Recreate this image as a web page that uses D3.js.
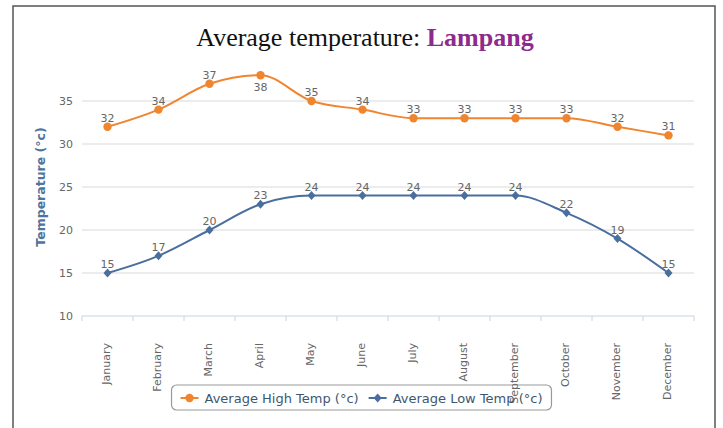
<!DOCTYPE html>
<html>
<head>
<meta charset="utf-8">
<script src="https://cdn.jsdelivr.net/npm/d3@7"></script>
<style>
  body { margin: 0; background: #fff; }
  svg { display: block; }
</style>
</head>
<body>
<svg id="chart"></svg>
<script>
const months = ["January", "February", "March", "April", "May", "June", "July",
  "August", "September", "October", "November", "December"];
const highTemps = [32, 34, 37, 38, 35, 34, 33, 33, 33, 33, 32, 31];
const lowTemps = [15, 17, 20, 23, 24, 24, 24, 24, 24, 22, 19, 15];
const yTicks = [10, 15, 20, 25, 30, 35];
const seriesNames = ["Average High Temp (°c)", "Average Low Temp (°c)"];

const width = 723, height = 428;
const font = "'DejaVu Sans', Verdana, sans-serif";
const orange = "#f0852f", blue = "#4a6e9e";

const svg = d3.select("#chart").attr("width", width).attr("height", height);

// outer frame
svg.append("rect")
  .attr("x", 13).attr("y", 6)
  .attr("width", 702).attr("height", 440)
  .attr("fill", "#fff")
  .attr("stroke", "#555").attr("stroke-width", 1.5);

// title
const title = svg.append("text")
  .attr("x", 365).attr("y", 46)
  .attr("text-anchor", "middle")
  .style("font-family", "'Liberation Serif', 'Times New Roman', serif")
  .style("font-size", "26px");
title.append("tspan").attr("fill", "#111").text("Average temperature: ");
title.append("tspan").attr("fill", "#8e2a8e").attr("font-weight", "bold").text("Lampang");

const x = d3.scaleBand().domain(months).range([82, 694]).paddingInner(0);
const y = d3.scaleLinear().domain([10, 39]).range([316, 66.6]);
const cx = d => x(d) + x.bandwidth() / 2;

// grid lines
svg.append("g")
  .selectAll("line")
  .data(yTicks.filter(t => t > 10))
  .enter()
  .append("line")
  .attr("x1", 82).attr("x2", 694)
  .attr("y1", d => y(d)).attr("y2", d => y(d))
  .attr("stroke", "#d9d9d9").attr("stroke-width", 1.2);

// y axis labels
const yAxis = d3.axisLeft(y).tickValues(yTicks).tickSize(0).tickPadding(9);
const gy = svg.append("g").attr("transform", "translate(82,0)").call(yAxis);
gy.select(".domain").remove();
gy.selectAll("text")
  .attr("fill", "#666")
  .style("font-family", font)
  .style("font-size", "11px");

// y axis title
svg.append("text")
  .attr("transform", "translate(45,187) rotate(-90)")
  .attr("text-anchor", "middle")
  .attr("fill", "#4d759e")
  .attr("font-weight", "bold")
  .style("font-family", font)
  .style("font-size", "12.5px")
  .text("Temperature (°c)");

// x axis
svg.append("line")
  .attr("x1", 82).attr("x2", 694)
  .attr("y1", y(10)).attr("y2", y(10))
  .attr("stroke", "#c8d3de").attr("stroke-width", 1.2);
svg.append("g")
  .selectAll("line")
  .data(d3.range(months.length + 1))
  .enter()
  .append("line")
  .attr("x1", i => 82 + i * x.step()).attr("x2", i => 82 + i * x.step())
  .attr("y1", y(10)).attr("y2", y(10) + 5)
  .attr("stroke", "#c8d3de");

// series
const series = [
  { name: seriesNames[0], values: highTemps, color: orange, marker: "circle" },
  { name: seriesNames[1], values: lowTemps, color: blue, marker: "diamond" }
];

const line = d3.line()
  .x((d, i) => cx(months[i]))
  .y(d => y(d))
  .curve(d3.curveMonotoneX);

function drawMarker(g, type, color, px, py) {
  if (type === "circle") {
    g.append("circle").attr("cx", px).attr("cy", py).attr("r", 4.2).attr("fill", color);
  } else {
    g.append("path")
      .attr("d", "M" + px + "," + (py - 4.5) + "L" + (px + 4) + "," + py +
        "L" + px + "," + (py + 4.5) + "L" + (px - 4) + "," + py + "Z")
      .attr("fill", color);
  }
}

series.forEach(s => {
  const g = svg.append("g");
  g.append("path")
    .attr("d", line(s.values))
    .attr("fill", "none")
    .attr("stroke", s.color)
    .attr("stroke-width", 2);
  s.values.forEach((v, i) => drawMarker(g, s.marker, s.color, cx(months[i]), y(v)));
  g.selectAll("text.label")
    .data(s.values)
    .enter()
    .append("text")
    .attr("class", "label")
    .attr("x", (d, i) => cx(months[i]))
    // label goes below the point if it would not fit under the plot top
    .attr("y", d => (y(d) - 17 < y.range()[1] ? y(d) + 16 : y(d) - 5))
    .attr("text-anchor", "middle")
    .attr("fill", "#666")
    .style("font-family", font)
    .style("font-size", "11px")
    .text(d => d);
});

// legend box (drawn under the month labels, which overlap it)
const legendBox = svg.append("rect")
  .attr("y", 385).attr("height", 25).attr("rx", 5)
  .attr("fill", "#fff")
  .attr("stroke", "#999").attr("stroke-width", 1.2);

// month labels
svg.append("g")
  .selectAll("text")
  .data(months)
  .enter()
  .append("text")
  .attr("transform", d => "translate(" + (cx(d) + 2) + ",343) rotate(-90)")
  .attr("text-anchor", "end")
  .attr("fill", "#666")
  .style("font-family", font)
  .style("font-size", "11px")
  .text(d => d);

// legend items
let lx = 0;
const items = svg.append("g");
series.forEach(s => {
  const it = items.append("g").attr("transform", "translate(" + lx + ",0)");
  it.append("line")
    .attr("x1", 0).attr("x2", 18).attr("y1", 398).attr("y2", 398)
    .attr("stroke", s.color).attr("stroke-width", 2);
  drawMarker(it, s.marker, s.color, 9, 398);
  const t = it.append("text")
    .attr("x", 24).attr("y", 402.5)
    .attr("fill", "#3e576f")
    .style("font-family", font)
    .style("font-size", "13px")
    .text(s.name);
  lx += 24 + t.node().getComputedTextLength() + 10;
});
const itemsWidth = lx - 10;
const boxW = itemsWidth + 18;
const boxX = 361.5 - boxW / 2;
legendBox.attr("x", boxX).attr("width", boxW);
items.attr("transform", "translate(" + (boxX + 9) + ",0)");
</script>
</body>
</html>
